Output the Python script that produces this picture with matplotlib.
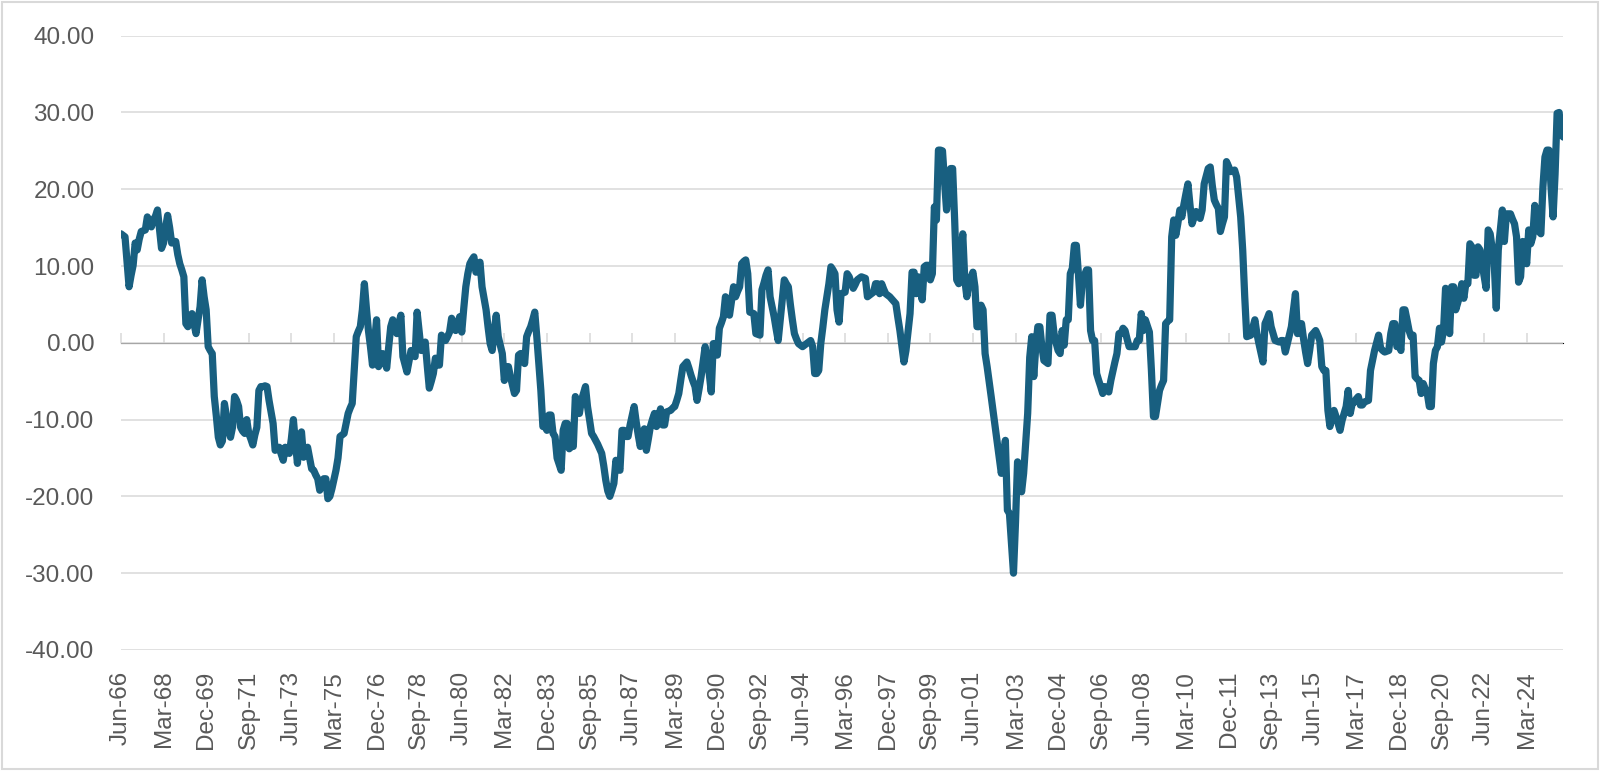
import numpy as np
import pandas as pd
import matplotlib
matplotlib.use("Agg")
import matplotlib.pyplot as plt
from matplotlib.patches import Rectangle
from matplotlib.ticker import FormatStrFormatter

# monthly values, one line per year (Jun-66 .. Sep-25)
vals_1960s = [
    14.2, 14.0, 13.8, 10.5, 7.3, 8.8, 10.1,  # 1966 (Jun-Dec)
    13.0, 12.1, 13.5, 14.5, 14.6, 14.7, 16.4, 15.8, 15.1, 16.0, 16.5, 17.3,
    14.8, 12.3, 13.0, 15.0, 16.6, 15.0, 13.0, 13.2, 13.2, 11.5, 10.3, 9.5,
    8.6, 2.5, 2.1, 3.0, 3.8, 2.5, 1.2, 3.0, 4.7, 8.2, 6.0, 4.3,
]
vals_1970s = [
    -0.5, -1.0, -1.4, -7.0, -9.5, -12.3, -13.3, -12.8, -7.9, -9.5, -11.4, -12.3,
    -11.0, -7.0, -7.5, -8.3, -11.0, -11.5, -11.8, -10.0, -11.8, -12.5, -13.3, -12.0,
    -11.0, -6.2, -5.7, -5.7, -5.6, -5.7, -7.5, -9.0, -10.5, -14.0, -13.8, -13.6,
    -14.5, -15.3, -13.6, -14.0, -14.4, -12.5, -10.0, -13.0, -15.7, -12.0, -11.6, -14.9,
    -14.2, -13.6, -15.0, -16.4, -16.6, -17.2, -17.7, -19.2, -18.5, -17.7, -17.7, -20.3,
    -20.0, -19.0, -17.8, -16.6, -15.0, -12.2, -12.0, -11.8, -10.5, -9.2, -8.5, -7.9,
    -3.5, 0.8, 1.5, 2.1, 4.3, 7.7, 4.5, 1.6, -0.5, -2.9, 0.0, 3.0,
    -3.1, -2.2, -1.4, -2.4, -3.3, -0.5, 2.1, 3.0, 2.0, 1.2, 2.5, 3.6,
    -1.8, -2.8, -3.8, -2.4, -1.0, -1.4, -1.8, 4.0, 1.5, -1.0, -0.5, 0.1,
    -3.0, -5.9, -5.0, -4.0, -2.0, -2.9, -2.9, 1.0, 0.6, 0.3, 0.8, 1.4,
]
vals_1980s = [
    3.2, 2.4, 1.6, 2.5, 3.4, 1.4, 4.5, 7.3, 9.0, 10.3, 10.8, 11.2,
    9.2, 9.9, 10.5, 7.3, 5.8, 4.3, 2.0, -0.1, -1.0, 1.5, 3.6, 0.8,
    -0.3, -1.4, -4.9, -3.1, -3.1, -4.4, -5.5, -6.6, -6.2, -1.6, -1.4, -1.4,
    -2.7, 0.8, 1.5, 2.1, 3.0, 4.0, 0.8, -2.7, -6.2, -10.9, -10.9, -11.4,
    -9.4, -9.4, -11.8, -12.2, -15.0, -15.8, -16.6, -11.4, -10.5, -10.5, -13.8, -13.5,
    -13.5, -7.0, -8.1, -9.2, -7.5, -6.6, -5.7, -8.3, -10.0, -11.8, -12.2, -12.7,
    -13.2, -13.8, -14.4, -16.0, -17.9, -19.3, -20.0, -19.2, -18.3, -15.3, -16.0, -16.6,
    -11.4, -11.4, -12.2, -12.2, -10.7, -9.5, -8.3, -10.3, -12.0, -13.5, -12.3, -11.2,
    -14.0, -12.5, -10.9, -10.0, -9.2, -10.9, -9.7, -8.6, -10.7, -10.7, -9.0, -8.9,
    -8.8, -8.5, -8.3, -7.5, -6.6, -4.8, -3.1, -2.8, -2.5, -3.3, -4.2, -5.0,
]
vals_1990s = [
    -5.7, -7.5, -6.0, -4.4, -2.5, -0.5, -2.2, -4.0, -6.4, -0.1, -0.1, -1.6,
    1.9, 2.6, 3.4, 6.0, 4.5, 3.6, 5.5, 7.3, 6.0, 6.7, 7.3, 10.3,
    10.6, 10.8, 9.0, 4.0, 3.9, 3.8, 1.2, 1.1, 1.0, 6.9, 7.8, 8.8,
    9.5, 6.0, 4.7, 3.4, 1.8, 0.3, 3.0, 5.6, 8.2, 7.7, 7.3, 5.0,
    3.0, 1.2, 0.5, -0.1, -0.3, -0.5, -0.3, -0.1, 0.1, 0.3, -0.5, -4.0,
    -4.0, -3.6, -0.1, 2.0, 4.3, 6.0, 7.7, 9.9, 9.5, 9.0, 4.3, 2.7,
    6.4, 6.5, 6.6, 9.0, 8.6, 7.8, 7.1, 7.6, 8.2, 8.4, 8.6, 8.5,
    8.4, 6.0, 6.2, 6.4, 6.6, 7.7, 7.7, 6.4, 7.7, 7.0, 6.4, 6.2,
    6.0, 5.7, 5.4, 5.1, 3.3, 1.6, -0.5, -2.5, -1.0, 1.4, 3.8, 9.2,
    9.2, 6.4, 8.6, 7.0, 5.6, 9.9, 10.1, 10.1, 8.2, 9.0, 17.7, 16.0,
]
vals_2000s = [
    25.1, 25.1, 25.0, 21.0, 17.3, 20.0, 22.7, 22.7, 16.0, 8.2, 7.7, 11.0,
    14.2, 8.2, 6.0, 7.7, 8.5, 9.2, 7.3, 2.1, 2.1, 4.9, 4.3, -1.4,
    -3.1, -5.0, -7.0, -9.0, -10.9, -13.1, -15.0, -17.0, -15.0, -12.7, -21.8, -22.2,
    -26.0, -30.0, -23.4, -15.5, -17.5, -19.4, -17.0, -13.0, -9.2, -1.9, 0.8, -4.4,
    -0.5, 2.1, 2.1, -0.5, -2.3, -2.5, -2.7, 3.6, 3.6, 1.2, 0.0, -1.0,
    -1.4, 1.6, -0.3, 3.0, 3.0, 9.0, 9.7, 12.7, 12.7, 9.0, 4.9, 8.2,
    8.8, 9.5, 9.5, 1.6, 0.3, 0.3, -4.0, -4.9, -5.7, -6.6, -5.7, -6.0,
    -6.4, -4.9, -3.7, -2.5, -1.4, 1.2, 1.2, 1.9, 1.6, 0.5, -0.5, -0.5,
    -0.5, -0.5, 0.3, 0.3, 3.8, 1.6, 3.0, 2.2, 1.4, -3.6, -9.6, -9.6,
    -7.9, -6.2, -5.5, -4.9, 2.5, 2.8, 3.0, 13.8, 16.0, 14.0, 15.5, 17.3,
]
vals_2010s = [
    16.4, 18.0, 19.4, 20.7, 18.0, 15.5, 16.3, 17.1, 16.6, 16.2, 17.3, 20.7,
    21.7, 22.7, 22.9, 20.5, 18.6, 18.0, 17.5, 14.5, 15.5, 16.4, 23.6, 23.0,
    22.3, 22.4, 22.5, 21.6, 19.0, 16.4, 12.1, 6.0, 0.8, 0.9, 1.0, 2.0,
    3.0, 1.2, -0.1, -1.3, -2.5, 2.5, 3.1, 3.8, 2.1, 1.2, 0.3, 0.2,
    0.1, 0.3, 0.3, -1.2, -0.1, 1.0, 2.1, 4.2, 6.4, 1.2, 1.3, 2.5,
    0.5, -1.2, -2.7, -1.0, 1.0, 1.3, 1.6, 1.0, 0.3, -3.1, -3.6, -3.6,
    -8.8, -10.9, -9.8, -8.8, -9.6, -10.5, -11.4, -10.1, -9.2, -8.3, -6.2, -9.2,
    -7.9, -7.7, -7.3, -7.0, -8.1, -8.1, -7.7, -7.6, -7.5, -3.6, -2.3, -1.0,
    0.0, 1.0, -0.7, -1.0, -1.2, -1.1, -1.0, 1.2, 2.5, 2.5, -0.5, -0.1,
    -1.0, 4.3, 4.3, 3.0, 1.6, 0.8, 1.0, -4.4, -4.7, -4.9, -6.6, -5.3,
]
vals_2020s = [
    -6.0, -6.6, -8.3, -8.3, -2.7, -1.0, -0.5, 1.9, 0.1, 1.6, 7.1, 6.9,
    1.2, 7.3, 7.3, 4.3, 5.2, 6.2, 7.7, 5.8, 7.7, 7.7, 12.9, 12.5,
    8.8, 8.8, 12.5, 12.1, 10.3, 8.7, 7.1, 14.7, 14.2, 12.3, 10.3, 4.5,
    12.1, 14.7, 17.3, 13.2, 16.8, 16.8, 16.8, 16.1, 15.5, 13.8, 7.9, 8.6,
    13.2, 11.8, 10.3, 14.7, 12.9, 13.8, 17.9, 14.7, 14.5, 14.2, 20.3, 24.2,
    25.1, 25.1, 20.3, 16.4, 22.0, 29.9, 30.0, 27.3, 26.8,  # 2025 (Jan-Sep)
]

values = np.array(vals_1960s + vals_1970s + vals_1980s + vals_1990s
                  + vals_2000s + vals_2010s + vals_2020s)
dates = pd.date_range("1966-06-01", periods=len(values), freq="MS")
y_ticks = [-40, -30, -20, -10, 0, 10, 20, 30, 40]
label_step = 21  # excel shows every 21st category

line_col = "#185f80"
grid_col = "#d9d9d9"
text_col = "#595959"
font = "Liberation Sans"

fig = plt.figure(figsize=(16, 7.71), dpi=100)
ax = fig.add_axes([0.0756, 0.157, 0.9014, 0.7967])

x = np.arange(len(values))
ax.plot(x, values, color=line_col, lw=5.2, solid_joinstyle="round",
        solid_capstyle="round", zorder=3)

ax.set_xlim(0, len(values) - 1)
ax.set_ylim(-40, 40)
ax.set_yticks(y_ticks)
ax.yaxis.set_major_formatter(FormatStrFormatter("%.2f"))
ax.grid(axis="y", color=grid_col, lw=1.1)
ax.set_axisbelow(True)
for s in ax.spines.values():
    s.set_visible(False)

# category labels sit at the bottom, tick marks on the zero line
tick_pos = x[::label_step]
tick_lab = [d.strftime("%b-%y") for d in dates[::label_step]]
ax.set_xticks(tick_pos)
ax.set_xticklabels(tick_lab, rotation=90, fontsize=17.5, color=text_col,
                   family=font)
ax.tick_params(axis="x", length=0, pad=15)
ax.tick_params(axis="y", length=0, pad=19, labelsize=17.5, labelcolor=text_col)
for t in ax.get_yticklabels():
    t.set_family(font)

zero_ax = ax.secondary_xaxis(0.5)
zero_ax.set_xticks(tick_pos)
zero_ax.set_xticklabels([])
zero_ax.tick_params(axis="x", direction="out", length=7, width=1.1,
                    color=grid_col)
zero_ax.spines["bottom"].set_color(grid_col)
zero_ax.spines["bottom"].set_linewidth(1.1)

# light border round the whole chart
fig.patches.append(Rectangle((0.001, 0.002), 0.998, 0.996, transform=fig.transFigure,
                             fill=False, edgecolor=grid_col, lw=1.5))

fig.savefig("out.png", dpi=100, facecolor="white")
